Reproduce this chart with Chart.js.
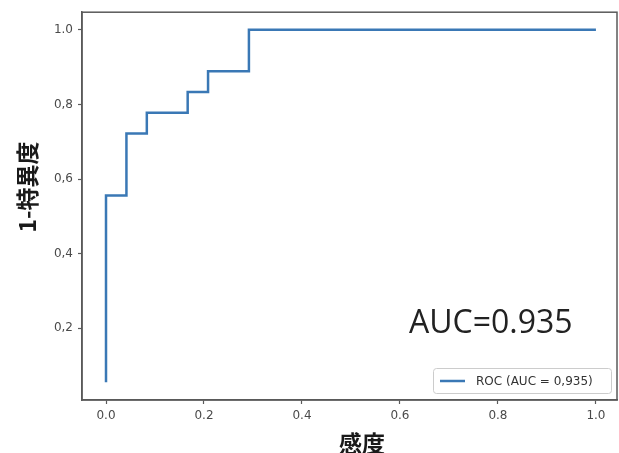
<!DOCTYPE html>
<html>
<head>
<meta charset="utf-8">
<script src="https://cdn.jsdelivr.net/npm/chart.js@4.4.0/dist/chart.umd.min.js"></script>
<style>
  html, body { margin: 0; padding: 0; background: #fff; }
  #wrap { width: 619px; height: 453px; position: relative; }
</style>
</head>
<body>
<div id="wrap"><canvas id="rocChart" width="619" height="453"></canvas></div>
<script>
// ROC curve points (false positive rate / true positive rate)
const fpr = [0, 0, 0.0417, 0.0417, 0.0833, 0.0833, 0.1667, 0.1667, 0.2083, 0.2083, 0.2917, 0.2917, 1.0];
const tpr = [0.0556, 0.5556, 0.5556, 0.7222, 0.7222, 0.7778, 0.7778, 0.8333, 0.8333, 0.8889, 0.8889, 1.0, 1.0];

const xTicks = [0, 0.2, 0.4, 0.6, 0.8, 1.0];
const xTickLabels = ['0.0', '0.2', '0.4', '0.6', '0.8', '1.0'];
const yTicks = [0.2, 0.4, 0.6, 0.8, 1.0];
const yTickLabels = ['0,2', '0,4', '0,6', '0,8', '1.0'];

const xTitle = '感度';
const yTitle = '1-特異度';
const aucText = 'AUC=0.935';
const legendLabel = 'ROC (AUC = 0,935)';

const lineColor = '#3a78b5';
const axisColor = '#5a5a5a';

// frame, axis titles, AUC note and legend box
const extras = {
  id: 'extras',
  afterDraw(chart) {
    const ctx = chart.ctx;
    const a = chart.chartArea;
    ctx.save();

    ctx.strokeStyle = axisColor;
    ctx.lineWidth = 1.5;
    ctx.strokeRect(a.left, a.top, a.right - a.left, a.bottom - a.top);

    ctx.fillStyle = '#1a1a1a';
    ctx.font = 'bold 23px "Noto Sans CJK JP"';
    ctx.textAlign = 'center';
    ctx.textBaseline = 'middle';
    ctx.fillText(xTitle, 362, 443);

    ctx.save();
    ctx.translate(27, 187);
    ctx.rotate(-Math.PI / 2);
    ctx.fillText(yTitle, 0, 0);
    ctx.restore();

    ctx.fillStyle = '#222';
    ctx.font = '32px "Open Sans"';
    ctx.textAlign = 'left';
    ctx.textBaseline = 'alphabetic';
    ctx.fillText(aucText, 409, 333);

    // legend
    const lx = 433, ly = 368, lw = 178, lh = 25;
    ctx.fillStyle = 'rgba(255,255,255,0.8)';
    ctx.strokeStyle = '#cccccc';
    ctx.lineWidth = 1;
    ctx.beginPath();
    ctx.roundRect(lx + 0.5, ly + 0.5, lw, lh, 3);
    ctx.fill();
    ctx.stroke();

    ctx.strokeStyle = lineColor;
    ctx.lineWidth = 2.5;
    ctx.beginPath();
    ctx.moveTo(440, ly + lh / 2 + 0.5);
    ctx.lineTo(465, ly + lh / 2 + 0.5);
    ctx.stroke();

    ctx.fillStyle = '#333';
    ctx.font = '12px "DejaVu Sans"';
    ctx.textBaseline = 'middle';
    ctx.fillText(legendLabel, 476, ly + lh / 2 + 1);

    ctx.restore();
  }
};

new Chart(document.getElementById('rocChart'), {
  type: 'line',
  data: {
    datasets: [{
      label: legendLabel,
      data: fpr.map((x, i) => ({ x: x, y: tpr[i] })),
      borderColor: lineColor,
      borderWidth: 2.5,
      pointRadius: 0,
      tension: 0,
      fill: false
    }]
  },
  options: {
    responsive: false,
    animation: false,
    layout: { padding: { top: 11, right: 2, left: 0, bottom: 0 } },
    plugins: {
      legend: { display: false },
      tooltip: { enabled: false }
    },
    scales: {
      x: {
        type: 'linear',
        min: -0.049,
        max: 1.043,
        afterFit: function(scale) { scale.height = 53; },
        afterBuildTicks: function(scale) {
          scale.ticks = xTicks.map(v => ({ value: v }));
        },
        grid: {
          drawOnChartArea: false,
          drawTicks: true,
          tickLength: 4,
          tickColor: axisColor,
          tickWidth: 1.2
        },
        border: { display: true, color: axisColor, width: 1.5 },
        ticks: {
          color: '#4a4a4a',
          padding: 5,
          maxRotation: 0,
          font: { family: 'DejaVu Sans', size: 12 },
          callback: function(value) {
            const i = xTicks.indexOf(value);
            return i >= 0 ? xTickLabels[i] : '';
          }
        }
      },
      y: {
        type: 'linear',
        min: 0.008,
        max: 1.047,
        afterFit: function(scale) { scale.width = 82; },
        afterBuildTicks: function(scale) {
          scale.ticks = yTicks.map(v => ({ value: v }));
        },
        grid: {
          drawOnChartArea: false,
          drawTicks: true,
          tickLength: 4,
          tickColor: axisColor,
          tickWidth: 1.2
        },
        border: { display: true, color: axisColor, width: 1.5 },
        ticks: {
          color: '#4a4a4a',
          padding: 5,
          font: { family: 'DejaVu Sans', size: 12 },
          callback: function(value) {
            const i = yTicks.indexOf(value);
            return i >= 0 ? yTickLabels[i] : '';
          }
        }
      }
    }
  },
  plugins: [extras]
});
</script>
</body>
</html>
